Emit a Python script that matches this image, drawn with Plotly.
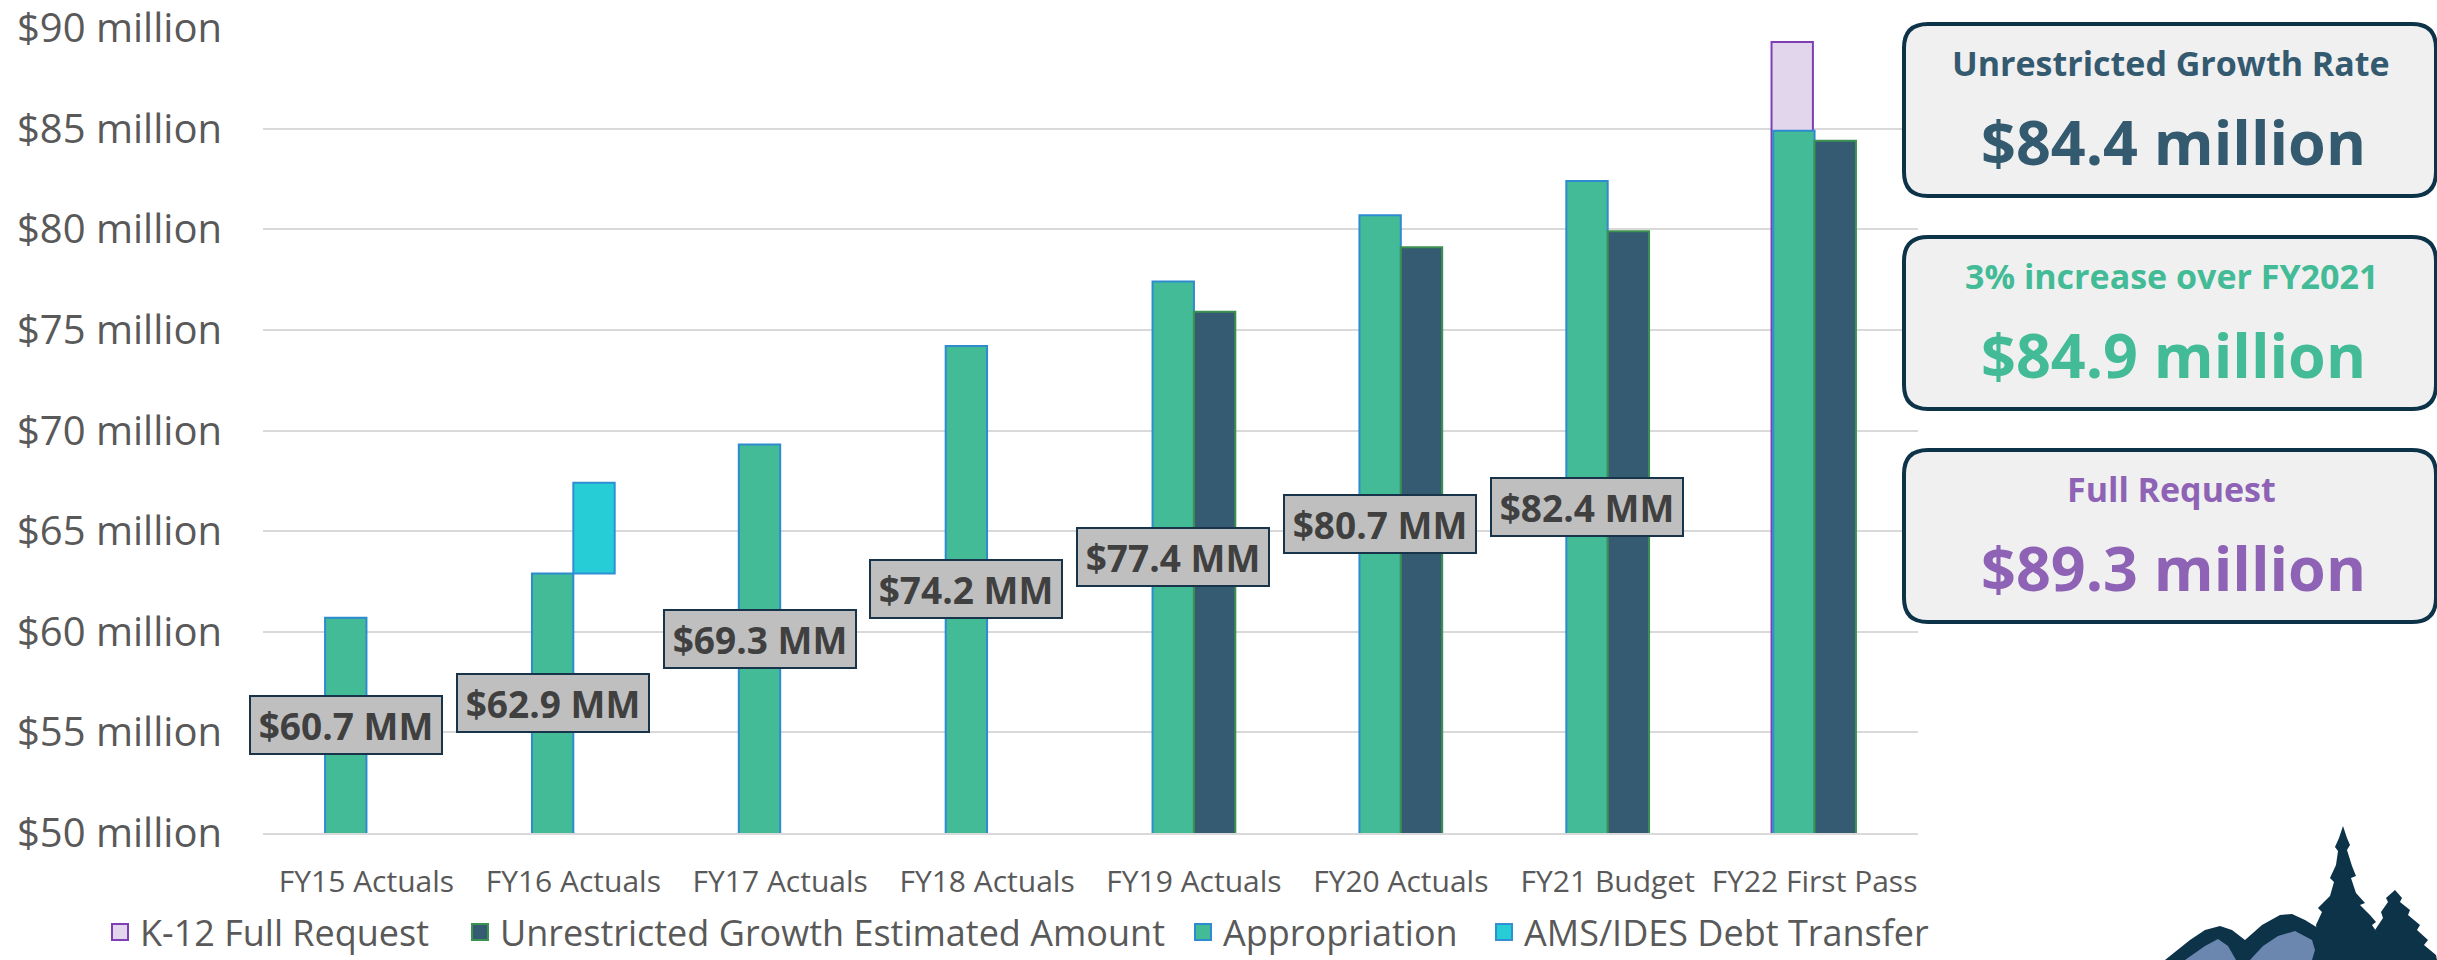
import plotly.graph_objects as go

# ---------------- data ----------------
categories = ["FY15 Actuals", "FY16 Actuals", "FY17 Actuals", "FY18 Actuals",
              "FY19 Actuals", "FY20 Actuals", "FY21 Budget", "FY22 First Pass"]
appropriation = [60.7, 62.9, 69.3, 74.2, 77.4, 80.7, 82.4, 84.9]
unrestricted_growth = [None, None, None, None, 75.9, 79.1, 79.9, 84.4]
k12_full_request = [None, None, None, None, None, None, None, 89.3]
ams_ides_debt_transfer = [None, 4.5, None, None, None, None, None, None]
labelled = [True, True, True, True, True, True, True, False]
y_tick_values = [50, 55, 60, 65, 70, 75, 80, 85, 90]
y_tick_labels = [f"${v} million" for v in y_tick_values]
callout_titles = ["Unrestricted Growth Rate", "3% increase over FY2021", "Full Request"]
callout_values = ["$84.4 million", "$84.9 million", "$89.3 million"]
legend_names = ["K-12 Full Request", "Unrestricted Growth Estimated Amount",
                "Appropriation", "AMS/IDES Debt Transfer"]

# ---------------- layout constants ----------------
W, H = 2437, 960
ML, MR, MT, MB = 263, 519, 28, 127
PW, PH = W - ML - MR, H - MT - MB
Y_MIN, Y_MAX = 50, 90
BAR_W = 0.2
FONT = "Open Sans"

C_APP, C_APP_LINE = "#43BB96", "#2E8BD0"
C_UG, C_UG_LINE = "#345B72", "#3C9150"
C_K12, C_K12_LINE = "#E2D6EC", "#7E3FB6"
C_AMS, C_AMS_LINE = "#27CDD6", "#2F8FD3"
NAVY = "#0D3349"
LOGO_BLUE = "#6B87B0"
CALLOUT_COLORS = ["#345A70", "#43BB96", "#8E62B5"]


def fx(px):
    return (px - ML) / PW


def fy(py):
    return (H - MB - py) / PH


def poly(points):
    return "M " + " L ".join(f"{fx(x):.5f},{fy(y):.5f}" for x, y in points) + " Z"


def rrect(x0, y0, x1, y1, r):
    p = lambda x, y: f"{fx(x):.5f},{fy(y):.5f}"
    return (f"M {p(x0 + r, y0)} L {p(x1 - r, y0)} Q {p(x1, y0)} {p(x1, y0 + r)} "
            f"L {p(x1, y1 - r)} Q {p(x1, y1)} {p(x1 - r, y1)} "
            f"L {p(x0 + r, y1)} Q {p(x0, y1)} {p(x0, y1 - r)} "
            f"L {p(x0, y0 + r)} Q {p(x0, y0)} {p(x0 + r, y0)} Z")


fig = go.Figure()

# bars (no legend; legend built with square markers below)
fig.add_bar(x=categories, y=k12_full_request, width=BAR_W, offset=-BAR_W - 0.008,
            marker=dict(color=C_K12, line=dict(color=C_K12_LINE, width=2)),
            name=legend_names[0], showlegend=False, hoverinfo="skip")
fig.add_bar(x=categories, y=appropriation, width=BAR_W, offset=-BAR_W,
            marker=dict(color=C_APP, line=dict(color=C_APP_LINE, width=2)),
            name=legend_names[2], showlegend=False, hoverinfo="skip")
fig.add_bar(x=categories, y=unrestricted_growth, width=BAR_W, offset=0,
            marker=dict(color=C_UG, line=dict(color=C_UG_LINE, width=2)),
            name=legend_names[1], showlegend=False, hoverinfo="skip")
fig.add_bar(x=categories, y=ams_ides_debt_transfer, base=appropriation, width=BAR_W, offset=0,
            marker=dict(color=C_AMS, line=dict(color=C_AMS_LINE, width=2)),
            name=legend_names[3], showlegend=False, hoverinfo="skip")

# legend entries
legend_specs = [(legend_names[0], C_K12, C_K12_LINE, "legend", 100),
                (legend_names[1], C_UG, C_UG_LINE, "legend2", 460),
                (legend_names[2], C_APP, C_APP_LINE, "legend3", 1183),
                (legend_names[3], C_AMS, C_AMS_LINE, "legend4", 1484)]
legend_layout = {}
for name, col, lcol, lg, px in legend_specs:
    fig.add_scatter(x=[None], y=[None], mode="markers", name=name, legend=lg,
                    marker=dict(symbol="square", size=16, color=col, line=dict(color=lcol, width=2)))
    legend_layout[lg] = dict(x=fx(px), xanchor="left", y=fy(962), yanchor="bottom",
                             orientation="h", itemsizing="trace", bgcolor="rgba(0,0,0,0)",
                             font=dict(family=FONT, size=36, color="#595959"))

annotations = []
for i, (v, show) in enumerate(zip(appropriation, labelled)):
    if not show:
        continue
    annotations.append(dict(
        x=i - BAR_W / 2, y=(Y_MIN + v) / 2, xref="x", yref="y",
        xanchor="center", yanchor="middle",
        text=f"${v:.1f} MM", showarrow=False,
        font=dict(family=FONT, size=37, color="#404040", weight="bold"),
        bgcolor="#BFBFBF", bordercolor="#17344A", borderwidth=2, borderpad=6,
        width=178, height=44))

shapes = []
for k in range(3):
    top = 24 + 213 * k
    shapes.append(dict(type="path", path=rrect(1904, top, 2436, top + 172, 24),
                       xref="paper", yref="paper", fillcolor="#F0F0F0",
                       line=dict(color=NAVY, width=4), layer="above"))
    annotations.append(dict(x=fx(2171), y=fy(top + 39), xref="paper", yref="paper",
                            xanchor="center", yanchor="middle",
                            text=callout_titles[k], showarrow=False,
                            font=dict(family=FONT, size=34, color=CALLOUT_COLORS[k], weight="bold")))
    annotations.append(dict(x=fx(2173), y=fy(top + 117), xref="paper", yref="paper",
                            xanchor="center", yanchor="middle",
                            text=callout_values[k], showarrow=False,
                            font=dict(family=FONT, size=61, color=CALLOUT_COLORS[k], weight="bold")))

# logo (decorative, bottom right)
mount_dark = [(2165, 960), (2190, 940), (2205, 930), (2220, 926), (2232, 930), (2245, 940),
              (2262, 925), (2280, 915), (2292, 914), (2305, 920), (2318, 928), (2330, 960)]
mount_light1 = [(2185, 960), (2205, 946), (2218, 939), (2228, 946), (2236, 960)]
mount_light2 = [(2250, 960), (2263, 946), (2278, 936), (2295, 931), (2312, 940), (2318, 960)]
tree_big = [(2343, 826), (2347, 838), (2350, 845), (2347, 850), (2352, 866), (2356, 876),
            (2351, 878), (2356, 893), (2365, 903), (2360, 905), (2370, 915), (2376, 922),
            (2372, 925), (2382, 940), (2386, 960), (2312, 960), (2318, 940), (2316, 925),
            (2322, 912), (2318, 908), (2330, 896), (2334, 882), (2330, 878), (2336, 865),
            (2338, 851), (2335, 847), (2339, 838)]
tree_small = [(2395, 890), (2402, 898), (2400, 902), (2410, 910), (2408, 915), (2420, 925),
              (2417, 930), (2428, 940), (2424, 945), (2436, 955), (2437, 960), (2370, 960),
              (2372, 945), (2378, 935), (2375, 930), (2383, 918), (2381, 912), (2388, 902),
              (2386, 898)]
for pts, col in [(mount_dark, NAVY), (mount_light1, LOGO_BLUE), (mount_light2, LOGO_BLUE),
                 (tree_big, NAVY), (tree_small, NAVY)]:
    shapes.append(dict(type="path", path=poly(pts), xref="paper", yref="paper",
                       fillcolor=col, line=dict(width=0), layer="above"))

fig.update_layout(
    width=W, height=H, autosize=False,
    margin=dict(l=ML, r=MR, t=MT, b=MB, pad=0, autoexpand=False),
    barmode="overlay",
    paper_bgcolor="white", plot_bgcolor="white",
    font=dict(family=FONT, color="#595959"),
    hovermode=False,
    annotations=annotations, shapes=shapes,
    xaxis=dict(type="category", showgrid=False, showline=True, linecolor="#D9D9D9", linewidth=2,
               ticks="", tickfont=dict(family=FONT, size=30, color="#595959"), automargin=False,
               ticklabelstandoff=21, ticklabeloverflow="allow",
               range=[-0.5, len(categories) - 0.5], fixedrange=True),
    yaxis=dict(range=[Y_MIN, Y_MAX], tickvals=y_tick_values, ticktext=y_tick_labels,
               showgrid=True, gridcolor="#D9D9D9", gridwidth=2, zeroline=False, automargin=False,
               ticks="", tickfont=dict(family=FONT, size=40, color="#595959"),
               ticklabelstandoff=40, ticklabeloverflow="allow", fixedrange=True),
    **legend_layout,
)

fig.write_html("out.html", config={"displayModeBar": False},
               post_script="document.body.style.margin='0';")
